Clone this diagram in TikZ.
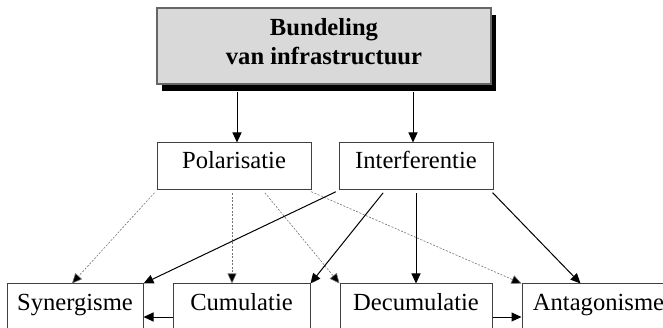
\documentclass[tikz,border=0pt]{standalone}
\usepackage{fontspec}
\setmainfont{Liberation Serif}
\usetikzlibrary{arrows.meta,shadows}
\begin{document}
\begin{tikzpicture}[x=1pt,y=-1pt,
  box/.style={draw=black!75,line width=1pt,inner sep=0pt,minimum height=47pt,
    text height=26pt,text depth=21pt,font=\fontsize{24.6pt}{29pt}\selectfont},
  headbox/.style={draw=black!60,line width=1.5pt,fill=black!15,inner sep=0pt,
    minimum width=334pt,minimum height=76pt,align=center,text height=57pt,text depth=19pt,
    font=\fontsize{24.6pt}{29pt}\selectfont\bfseries,
    drop shadow={shadow xshift=5pt,shadow yshift=-7pt,fill=black,opacity=1}},
  solid/.style={line width=1pt,-{Triangle[length=10pt,width=9pt]},shorten <=3pt},
  weak/.style={line width=.6pt,draw=black!55,dash pattern=on 2pt off 1.5pt,
    -{Triangle[length=10pt,width=9pt,fill=black]},shorten <=3pt}]
\useasboundingbox (0,0) rectangle (663,328);
\clip (0,0) rectangle (663,328);
% top
\node[headbox] (top) at (324,46) {Bundeling\\van infrastructuur};
% middle row
\node[box,minimum width=154pt] (pol) at (234,166.5) {Polarisatie};
\node[box,minimum width=154pt] (int) at (416,166.5) {Interferentie};
% bottom row
\node[box,minimum width=136pt] (syn) at (75,307.5) {Synergisme};
\node[box,minimum width=137pt] (cum) at (241.5,307.5) {Cumulatie};
\node[box,minimum width=152pt] (dec) at (416,307.5) {Decumulatie};
\node[box,minimum width=153pt] (ant) at (598.5,307.5) {Antagonisme};
% from top
\coordinate (t1) at ([xshift=-87pt]top.south);
\coordinate (t2) at ([xshift=89pt]top.south);
\draw[solid,shorten <=7pt] (t1) -- (t1 |- pol.north);
\draw[solid,shorten <=7pt] (t2) -- (t2 |- int.north);
% from Polarisatie
\coordinate (p2) at ([xshift=-2pt]pol.south);
\draw[weak] (pol.south west) -- ([xshift=-3pt]syn.north);
\draw[weak] (p2) -- (p2 |- cum.north);
\draw[weak] ([xshift=29pt]pol.south) -- (dec.north west);
\draw[weak] ([xshift=-3pt]pol.south east) -- (ant.north west);
% from Interferentie
\draw[solid] (int.south west) -- (syn.north east);
\draw[solid] ([xshift=-31pt]int.south) -- (cum.north east);
\draw[solid] (int.south) -- (dec.north);
\draw[solid] ([xshift=-3pt]int.south east) -- ([xshift=-18pt]ant.north);
% bottom row
\draw[solid,shorten <=0pt] ([yshift=-9.5pt]cum.west) -- ([yshift=-9.5pt]syn.east);
\draw[solid,shorten <=0pt] ([yshift=-9.5pt]dec.east) -- ([yshift=-9.5pt]ant.west);
\end{tikzpicture}
\end{document}
